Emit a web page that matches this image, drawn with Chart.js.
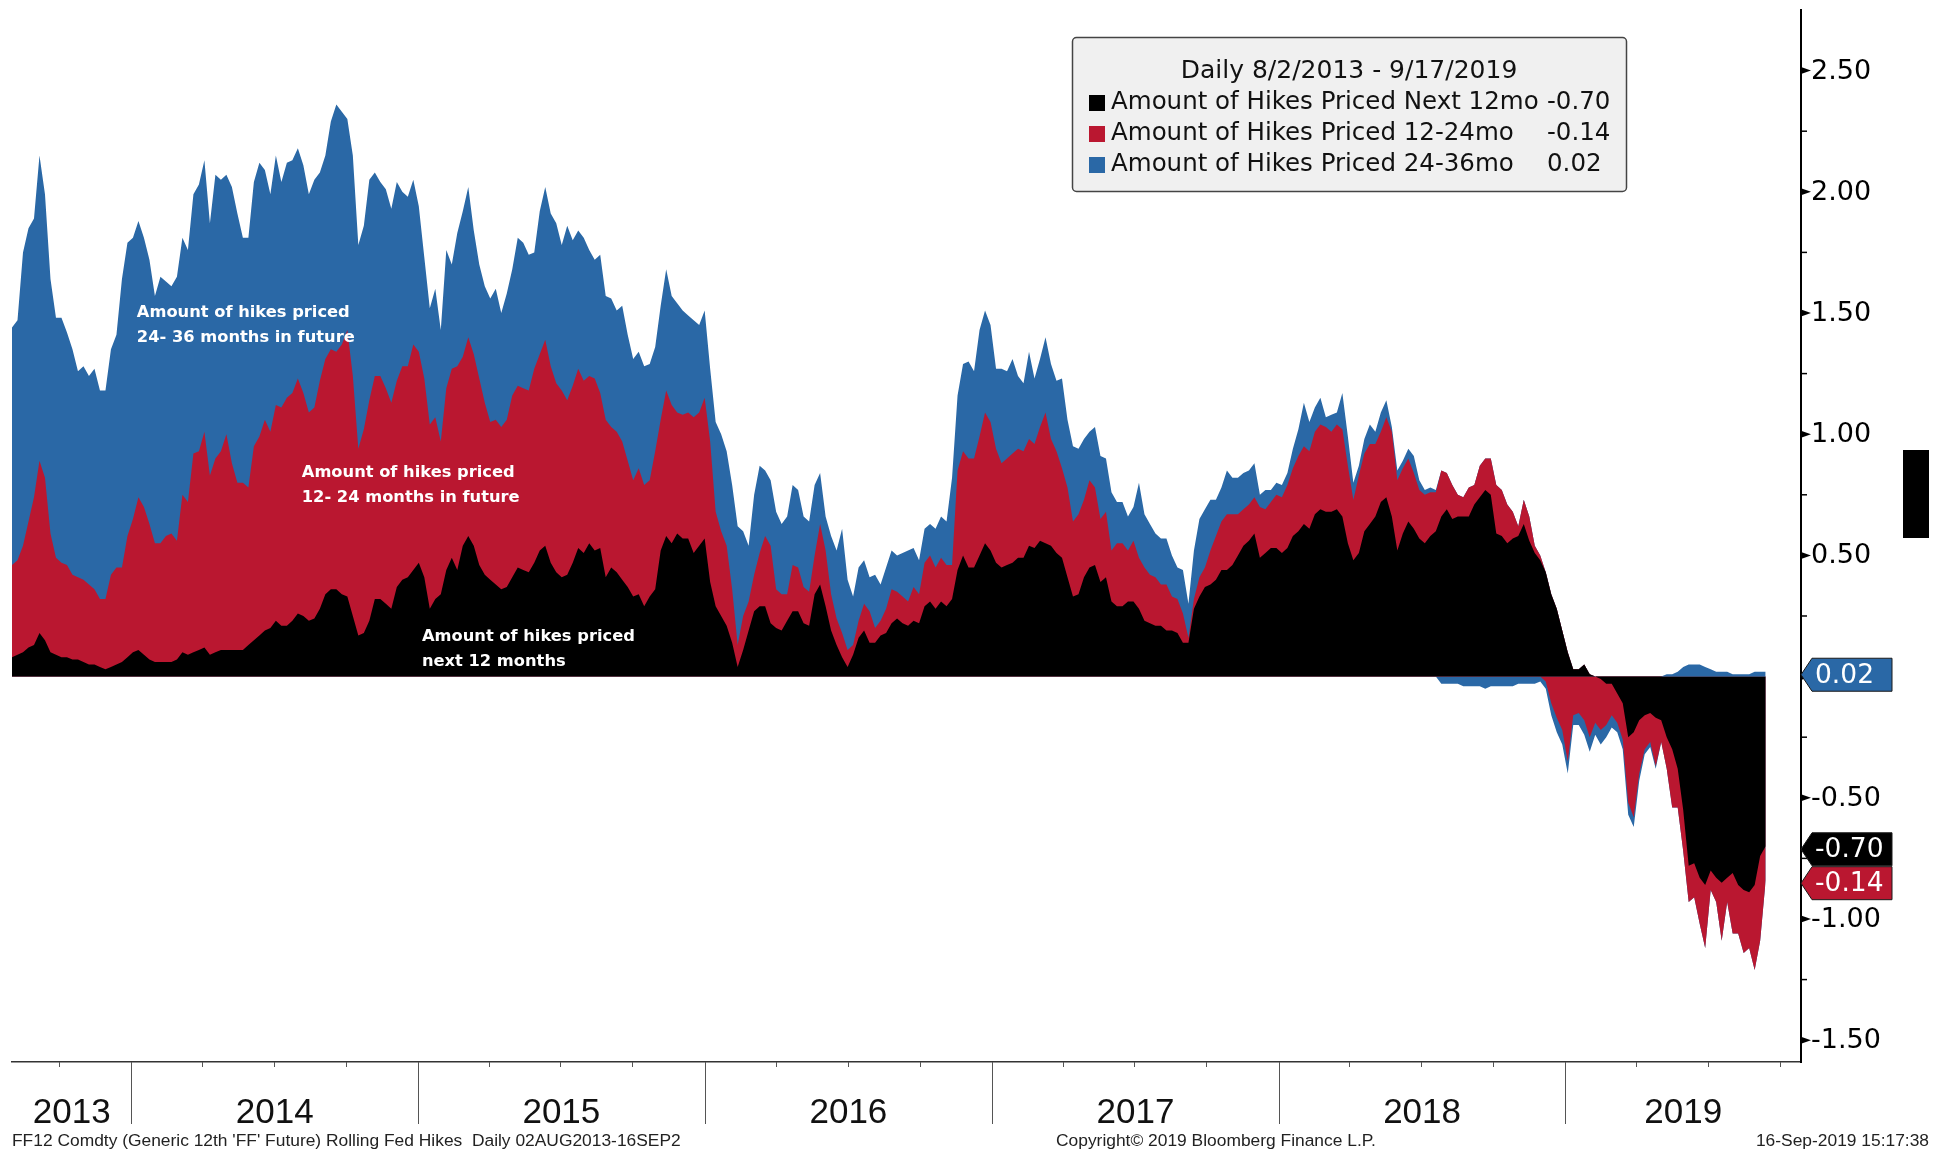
<!DOCTYPE html>
<html>
<head>
<meta charset="utf-8">
<title>FF12 Rolling Fed Hikes</title>
<script src="https://cdn.jsdelivr.net/npm/chart.js@4.4.1/dist/chart.umd.min.js"></script>
<style>
  html, body { margin: 0; padding: 0; background: #fff; }
</style>
</head>
<body>
<canvas id="chart" width="1948" height="1153"></canvas>
<script>
// weekly samples, starting at the first week
const firstWeek = '2013-08-02';
const axisEnd = '2019-10-28';
const yearLabels = ['2013', '2014', '2015', '2016', '2017', '2018', '2019'];
const legendTitle = 'Daily 8/2/2013 - 9/17/2019';
const seriesNames = ['Amount of Hikes Priced Next 12mo', 'Amount of Hikes Priced 12-24mo', 'Amount of Hikes Priced 24-36mo'];
const yTickValues = [-1.5, -1.25, -1, -0.75, -0.5, -0.25, 0, 0.25, 0.5, 0.75, 1, 1.25, 1.5, 1.75, 2, 2.25, 2.5];

const next12 = [
  0.08, 0.09, 0.10, 0.12, 0.13, 0.18, 0.15, 0.10, 0.09, 0.08,
  0.08, 0.07, 0.07, 0.06, 0.05, 0.05, 0.04, 0.03, 0.04, 0.05,
  0.06, 0.08, 0.10, 0.11, 0.09, 0.07, 0.06, 0.06, 0.06, 0.06,
  0.07, 0.10, 0.09, 0.10, 0.11, 0.12, 0.09, 0.10, 0.11, 0.11,
  0.11, 0.11, 0.11, 0.13, 0.15, 0.17, 0.19, 0.20, 0.23, 0.21,
  0.21, 0.23, 0.26, 0.25, 0.23, 0.24, 0.28, 0.34, 0.36, 0.36,
  0.34, 0.33, 0.25, 0.17, 0.18, 0.23, 0.32, 0.32, 0.30, 0.28,
  0.37, 0.40, 0.41, 0.44, 0.47, 0.41, 0.28, 0.32, 0.34, 0.44,
  0.49, 0.44, 0.54, 0.58, 0.54, 0.46, 0.42, 0.40, 0.38, 0.36,
  0.37, 0.41, 0.45, 0.44, 0.43, 0.47, 0.52, 0.54, 0.47, 0.43,
  0.41, 0.42, 0.47, 0.53, 0.51, 0.55, 0.52, 0.53, 0.41, 0.45,
  0.43, 0.40, 0.37, 0.33, 0.34, 0.29, 0.33, 0.36, 0.52, 0.58,
  0.55, 0.59, 0.57, 0.57, 0.51, 0.54, 0.57, 0.39, 0.29, 0.25,
  0.21, 0.14, 0.04, 0.11, 0.19, 0.27, 0.29, 0.29, 0.22, 0.20,
  0.19, 0.23, 0.27, 0.27, 0.22, 0.21, 0.34, 0.38, 0.29, 0.19,
  0.13, 0.08, 0.04, 0.09, 0.16, 0.19, 0.14, 0.14, 0.17, 0.18,
  0.22, 0.24, 0.22, 0.21, 0.23, 0.22, 0.29, 0.31, 0.28, 0.31,
  0.29, 0.32, 0.44, 0.50, 0.45, 0.45, 0.50, 0.55, 0.52, 0.47,
  0.45, 0.46, 0.47, 0.49, 0.49, 0.54, 0.53, 0.56, 0.55, 0.54,
  0.51, 0.49, 0.41, 0.33, 0.34, 0.41, 0.45, 0.46, 0.39, 0.41,
  0.31, 0.29, 0.29, 0.31, 0.31, 0.28, 0.23, 0.22, 0.21, 0.21,
  0.19, 0.19, 0.18, 0.14, 0.14, 0.28, 0.33, 0.37, 0.38, 0.40,
  0.44, 0.44, 0.46, 0.50, 0.54, 0.56, 0.59, 0.49, 0.51, 0.53,
  0.53, 0.51, 0.53, 0.58, 0.60, 0.63, 0.61, 0.67, 0.69, 0.68,
  0.68, 0.69, 0.66, 0.55, 0.48, 0.51, 0.60, 0.63, 0.66, 0.72,
  0.74, 0.66, 0.52, 0.59, 0.64, 0.61, 0.57, 0.55, 0.58, 0.60,
  0.66, 0.69, 0.65, 0.66, 0.66, 0.66, 0.71, 0.74, 0.77, 0.75,
  0.59, 0.58, 0.55, 0.57, 0.58, 0.63, 0.56, 0.51, 0.48, 0.43,
  0.34, 0.28, 0.19, 0.10, 0.03, 0.03, 0.05, 0.01, 0.00, -0.01,
  -0.03, -0.03, -0.07, -0.11, -0.25, -0.23, -0.18, -0.16, -0.15, -0.17,
  -0.18, -0.25, -0.30, -0.38, -0.55, -0.78, -0.77, -0.83, -0.86, -0.80,
  -0.83, -0.85, -0.83, -0.81, -0.86, -0.88, -0.89, -0.86, -0.74, -0.70
];

const months12to24 = [
  0.38, 0.39, 0.44, 0.52, 0.61, 0.71, 0.67, 0.49, 0.40, 0.39,
  0.38, 0.35, 0.34, 0.34, 0.33, 0.31, 0.28, 0.29, 0.38, 0.40,
  0.39, 0.50, 0.55, 0.63, 0.61, 0.56, 0.49, 0.49, 0.52, 0.53,
  0.49, 0.65, 0.63, 0.82, 0.82, 0.89, 0.74, 0.80, 0.82, 0.89,
  0.77, 0.69, 0.69, 0.65, 0.80, 0.82, 0.87, 0.81, 0.89, 0.90,
  0.94, 0.94, 0.97, 0.92, 0.86, 0.87, 0.94, 0.97, 0.99, 0.98,
  1.03, 1.10, 0.99, 0.77, 0.84, 0.91, 0.92, 0.92, 0.89, 0.85,
  0.85, 0.88, 0.87, 0.93, 0.87, 0.82, 0.76, 0.75, 0.63, 0.75,
  0.78, 0.84, 0.78, 0.82, 0.79, 0.77, 0.71, 0.65, 0.68, 0.67,
  0.69, 0.75, 0.75, 0.75, 0.75, 0.80, 0.81, 0.85, 0.81, 0.78,
  0.77, 0.72, 0.73, 0.74, 0.71, 0.69, 0.71, 0.64, 0.65, 0.58,
  0.58, 0.57, 0.52, 0.48, 0.52, 0.50, 0.48, 0.57, 0.54, 0.60,
  0.57, 0.50, 0.51, 0.52, 0.56, 0.55, 0.58, 0.58, 0.39, 0.35,
  0.33, 0.22, 0.09, 0.14, 0.12, 0.15, 0.22, 0.29, 0.32, 0.16,
  0.15, 0.11, 0.19, 0.18, 0.15, 0.14, 0.16, 0.25, 0.23, 0.15,
  0.11, 0.10, 0.07, 0.04, 0.07, 0.11, 0.13, 0.06, 0.06, 0.10,
  0.14, 0.11, 0.11, 0.10, 0.14, 0.12, 0.18, 0.19, 0.17, 0.18,
  0.17, 0.14, 0.41, 0.43, 0.45, 0.45, 0.49, 0.54, 0.53, 0.47,
  0.43, 0.44, 0.45, 0.45, 0.44, 0.44, 0.43, 0.47, 0.54, 0.44,
  0.42, 0.37, 0.37, 0.31, 0.33, 0.32, 0.36, 0.32, 0.26, 0.27,
  0.21, 0.26, 0.26, 0.21, 0.25, 0.21, 0.22, 0.20, 0.20, 0.17,
  0.19, 0.14, 0.14, 0.12, 0.02, 0.04, 0.08, 0.08, 0.14, 0.18,
  0.20, 0.23, 0.21, 0.17, 0.15, 0.15, 0.15, 0.21, 0.18, 0.19,
  0.22, 0.23, 0.26, 0.28, 0.31, 0.32, 0.32, 0.34, 0.35, 0.35,
  0.33, 0.35, 0.36, 0.32, 0.25, 0.32, 0.32, 0.33, 0.30, 0.29,
  0.33, 0.35, 0.29, 0.27, 0.26, 0.23, 0.20, 0.20, 0.18, 0.16,
  0.19, 0.15, 0.14, 0.09, 0.08, 0.12, 0.08, 0.13, 0.13, 0.15,
  0.20, 0.19, 0.16, 0.11, 0.04, 0.10, 0.10, 0.03, 0.02, -0.02,
  -0.11, -0.17, -0.22, -0.35, -0.16, -0.15, -0.18, -0.25, -0.19, -0.21,
  -0.17, -0.13, -0.12, -0.15, -0.27, -0.35, -0.22, -0.14, -0.12, -0.20,
  -0.09, -0.13, -0.24, -0.16, -0.17, -0.15, -0.14, -0.19, -0.26, -0.08,
  -0.10, -0.24, -0.10, -0.25, -0.20, -0.26, -0.23, -0.35, -0.35, -0.14
];

const months24to36 = [
  0.98, 0.99, 1.21, 1.21, 1.15, 1.26, 1.17, 1.05, 0.99, 1.01,
  0.96, 0.93, 0.85, 0.88, 0.86, 0.91, 0.86, 0.86, 0.93, 0.96,
  1.19, 1.21, 1.16, 1.14, 1.11, 1.09, 1.02, 1.10, 1.05, 1.02,
  1.09, 1.06, 1.04, 1.07, 1.10, 1.12, 1.04, 1.17, 1.12, 1.07,
  1.14, 1.11, 1.01, 1.03, 1.09, 1.13, 1.03, 0.98, 1.03, 0.93,
  0.97, 0.96, 0.95, 0.94, 0.90, 0.94, 0.86, 0.84, 0.94, 1.02,
  0.96, 0.87, 0.91, 0.84, 0.84, 0.91, 0.84, 0.80, 0.82, 0.80,
  0.82, 0.72, 0.70, 0.68, 0.60, 0.50, 0.48, 0.53, 0.46, 0.57,
  0.43, 0.55, 0.60, 0.62, 0.51, 0.47, 0.48, 0.51, 0.54, 0.47,
  0.52, 0.52, 0.61, 0.60, 0.56, 0.48, 0.59, 0.63, 0.63, 0.66,
  0.60, 0.72, 0.60, 0.57, 0.59, 0.52, 0.49, 0.57, 0.51, 0.53,
  0.50, 0.56, 0.52, 0.50, 0.48, 0.49, 0.48, 0.43, 0.47, 0.50,
  0.45, 0.45, 0.43, 0.40, 0.40, 0.36, 0.36, 0.30, 0.37, 0.40,
  0.39, 0.43, 0.49, 0.35, 0.23, 0.33, 0.36, 0.27, 0.27, 0.32,
  0.29, 0.32, 0.33, 0.32, 0.29, 0.29, 0.29, 0.21, 0.14, 0.24,
  0.28, 0.43, 0.29, 0.20, 0.22, 0.18, 0.14, 0.22, 0.15, 0.17,
  0.16, 0.15, 0.18, 0.21, 0.16, 0.14, 0.14, 0.13, 0.16, 0.17,
  0.18, 0.36, 0.31, 0.36, 0.40, 0.36, 0.44, 0.42, 0.40, 0.33,
  0.39, 0.36, 0.39, 0.30, 0.28, 0.36, 0.27, 0.28, 0.31, 0.31,
  0.29, 0.37, 0.28, 0.31, 0.27, 0.25, 0.20, 0.25, 0.26, 0.22,
  0.24, 0.17, 0.17, 0.14, 0.14, 0.31, 0.22, 0.21, 0.18, 0.19,
  0.19, 0.17, 0.13, 0.18, 0.14, 0.20, 0.24, 0.24, 0.21, 0.15,
  0.14, 0.18, 0.15, 0.15, 0.15, 0.14, 0.14, 0.05, 0.08, 0.05,
  0.05, 0.05, 0.05, 0.08, 0.11, 0.18, 0.12, 0.10, 0.11, 0.04,
  0.07, 0.05, 0.15, 0.12, 0.07, 0.04, 0.06, 0.08, 0.05, 0.08,
  0.07, 0.02, 0.04, 0.03, 0.04, 0.07, 0.04, 0.02, 0.02, 0.01,
  -0.03, -0.03, -0.03, -0.03, -0.04, -0.04, -0.04, -0.04, -0.05, -0.04,
  -0.04, -0.04, -0.04, -0.04, -0.03, -0.03, -0.03, -0.03, -0.02, -0.03,
  -0.05, -0.06, -0.06, -0.05, -0.04, -0.05, -0.06, -0.06, -0.05, -0.06,
  -0.05, -0.05, -0.04, -0.04, -0.05, -0.04, -0.03, -0.02, -0.02, -0.01,
  0.00, 0.01, 0.01, 0.02, 0.04, 0.05, 0.05, 0.05, 0.04, 0.03,
  0.02, 0.02, 0.02, 0.01, 0.01, 0.01, 0.01, 0.02, 0.02, 0.02
];

const colors = ['#000000', '#BA1730', '#2A68A6'];
const DAY = 86400000;
const t0 = Date.parse(firstWeek);
const weekTimes = next12.map((_, i) => t0 + i * 7 * DAY);
const series = [next12, months12to24, months24to36];

// Bloomberg stacks positive and negative amounts on separate sides of zero
function side(values, sign) {
  return values.map((v, i) => ({ x: weekTimes[i], y: sign > 0 ? Math.max(v, 0) : Math.min(v, 0) }));
}

const datasets = [];
['pos', 'neg'].forEach(stack => {
  series.forEach((vals, s) => {
    datasets.push({
      label: seriesNames[s],
      data: side(vals, stack === 'pos' ? 1 : -1),
      stack: stack,
      backgroundColor: colors[s],
      borderColor: 'rgba(0,0,0,0)',
      borderWidth: 0,
      pointRadius: 0,
      tension: 0,
      fill: 'origin'
    });
  });
});

const fmt = v => v.toFixed(2);
const isMajor = v => Math.abs(v * 2 - Math.round(v * 2)) < 1e-9;

const notes = [
  { date: '2014-01-08', value: 1.50, lines: ['Amount of hikes priced', '24- 36 months in future'] },
  { date: '2014-08-06', value: 0.84, lines: ['Amount of hikes priced', '12- 24 months in future'] },
  { date: '2015-01-06', value: 0.165, lines: ['Amount of hikes priced', 'next 12 months'] }
];

const decorations = {
  id: 'decorations',
  afterDraw(chart) {
    const { ctx, chartArea: area, scales: { x, y } } = chart;
    ctx.save();

    // time axis: quarter ticks, year dividers, year names
    ctx.strokeStyle = '#555';
    ctx.lineWidth = 1;
    for (let yr = 2013; yr <= 2019; yr++) {
      for (let m = 0; m < 12; m += 3) {
        const t = Date.UTC(yr, m, 1);
        if (t <= x.min || t >= x.max) continue;
        const px = Math.round(x.getPixelForValue(t)) + 0.5;
        ctx.beginPath();
        ctx.moveTo(px, area.bottom);
        ctx.lineTo(px, area.bottom + (m === 0 ? 62 : 5));
        ctx.stroke();
      }
    }
    ctx.fillStyle = '#111';
    ctx.font = '35px "Liberation Sans Narrow", "Arial Narrow", sans-serif';
    ctx.textAlign = 'center';
    ctx.textBaseline = 'middle';
    yearLabels.forEach(label => {
      const yr = +label;
      const a = Math.max(Date.UTC(yr, 0, 1), x.min);
      const b = Math.min(Date.UTC(yr + 1, 0, 1), x.max);
      ctx.fillText(label, (x.getPixelForValue(a) + x.getPixelForValue(b)) / 2, area.bottom + 51);
    });

    // value axis: tick marks and labels
    ctx.fillStyle = '#000';
    ctx.strokeStyle = '#000';
    ctx.lineWidth = 1.5;
    ctx.textAlign = 'left';
    ctx.font = '27px "DejaVu Sans", sans-serif';
    yTickValues.forEach(v => {
      const py = y.getPixelForValue(v);
      if (isMajor(v)) {
        ctx.beginPath();
        ctx.moveTo(area.right, py - 3.5);
        ctx.lineTo(area.right + 10, py);
        ctx.lineTo(area.right, py + 3.5);
        ctx.closePath();
        ctx.fill();
        ctx.fillText(fmt(v), area.right + 10, py + 1);
      } else {
        ctx.beginPath();
        ctx.moveTo(area.right, py);
        ctx.lineTo(area.right + 6, py);
        ctx.stroke();
      }
    });

    // text notes inside the areas
    ctx.fillStyle = '#fff';
    ctx.font = 'bold 16.3px "DejaVu Sans", sans-serif';
    notes.forEach(n => {
      const px = x.getPixelForValue(Date.parse(n.date));
      const py = y.getPixelForValue(n.value);
      n.lines.forEach((line, i) => ctx.fillText(line, px, py + i * 25));
    });

    // legend box
    const bx = 1072, by = 37, bw = 554, bh = 154;
    ctx.beginPath();
    ctx.roundRect(bx + 0.5, by + 0.5, bw, bh, 4);
    ctx.fillStyle = '#F0F0F0';
    ctx.fill();
    ctx.strokeStyle = '#444';
    ctx.lineWidth = 1.5;
    ctx.stroke();
    ctx.fillStyle = '#111';
    ctx.font = '25px "DejaVu Sans", sans-serif';
    ctx.textAlign = 'center';
    ctx.fillText(legendTitle, bx + bw / 2, 71);
    ctx.font = '24.5px "DejaVu Sans", sans-serif';
    ctx.textAlign = 'left';
    series.forEach((vals, s) => {
      const ry = 103 + s * 31;
      ctx.fillStyle = colors[s];
      ctx.fillRect(1089, ry - 8, 16, 16);
      ctx.fillStyle = '#111';
      ctx.fillText(seriesNames[s], 1111, ry);
      ctx.fillText(fmt(vals[vals.length - 1]), 1547, ry);
    });

    // last-value badges on the value axis
    ctx.font = '26.5px "DejaVu Sans", sans-serif';
    series.forEach((vals, s) => {
      const last = vals[vals.length - 1];
      const meta = chart.getDatasetMeta(last >= 0 ? s : s + 3);
      const py = meta.data[meta.data.length - 1].y + 3;
      const h = 33, x0 = area.right, x1 = area.right + 11, x2 = area.right + 91;
      ctx.beginPath();
      ctx.moveTo(x0, py);
      ctx.lineTo(x1, py - h / 2);
      ctx.lineTo(x2, py - h / 2);
      ctx.lineTo(x2, py + h / 2);
      ctx.lineTo(x1, py + h / 2);
      ctx.closePath();
      ctx.fillStyle = colors[s];
      ctx.fill();
      ctx.strokeStyle = '#1a1a1a';
      ctx.lineWidth = 1;
      ctx.stroke();
      ctx.fillStyle = '#fff';
      ctx.fillText(fmt(last), x1 + 3, py + 1);
    });

    // redaction block at the right edge
    ctx.fillStyle = '#000';
    ctx.fillRect(1903, 450, 26, 88);

    // footer
    ctx.fillStyle = '#222';
    ctx.font = '17.4px "Liberation Sans", Arial, sans-serif';
    ctx.textAlign = 'left';
    ctx.fillText("FF12 Comdty (Generic 12th 'FF' Future) Rolling Fed Hikes  Daily 02AUG2013-16SEP2", 12, 1141);
    ctx.fillText('Copyright\u00A9 2019 Bloomberg Finance L.P.', 1056, 1141);
    ctx.textAlign = 'right';
    ctx.fillText('16-Sep-2019 15:17:38', 1929, 1141);

    ctx.restore();
  }
};

new Chart(document.getElementById('chart'), {
  type: 'line',
  data: { datasets },
  options: {
    responsive: false,
    animation: false,
    layout: { padding: { left: 12, top: 10, right: 0, bottom: 0 } },
    plugins: { legend: { display: false }, tooltip: { enabled: false } },
    scales: {
      x: {
        type: 'linear',
        min: t0,
        max: Date.parse(axisEnd),
        afterFit: s => { s.height = 91; },
        grid: { display: false, drawTicks: false },
        border: { display: true, color: '#333', width: 1.5 },
        ticks: { display: false }
      },
      y: {
        position: 'right',
        stacked: true,
        min: -1.59,
        max: 2.75,
        afterBuildTicks: s => { s.ticks = yTickValues.map(v => ({ value: v })); },
        afterFit: s => { s.width = 147; },
        grid: { display: false, drawTicks: false },
        border: { display: true, color: '#000', width: 2 },
        ticks: { display: false }
      }
    }
  },
  plugins: [decorations]
});
</script>
</body>
</html>
